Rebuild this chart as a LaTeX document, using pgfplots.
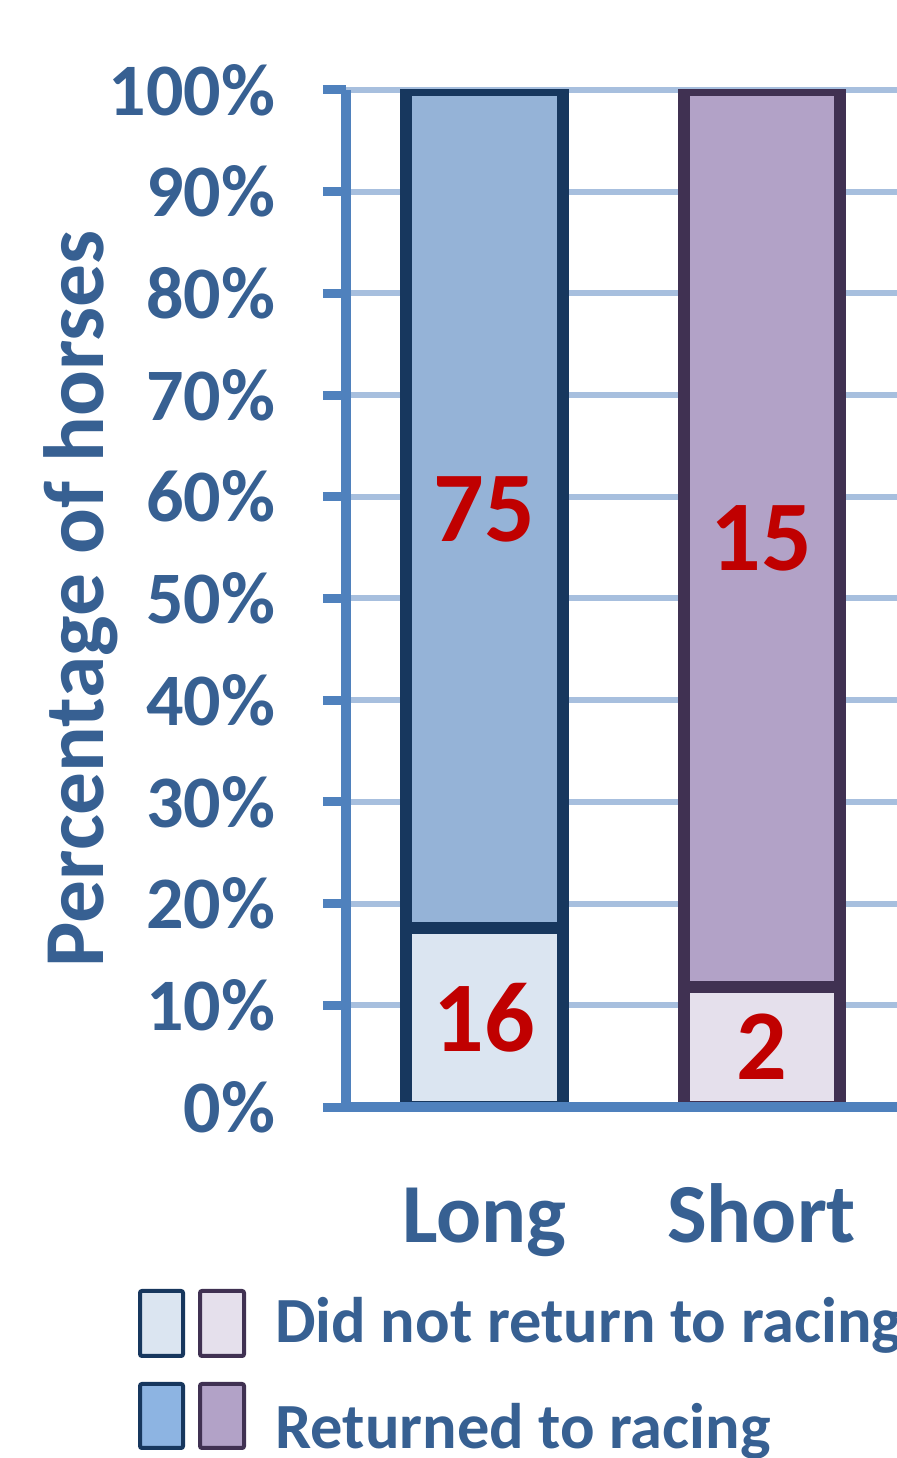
\documentclass[border=0pt]{standalone}
\usepackage{pgfplots}
\pgfplotsset{compat=1.18}
\usepackage{pgfplotstable}
\usepackage{fontspec}
\setmainfont{Carlito}

\definecolor{axisblue}{HTML}{4F81BD}
\definecolor{gridblue}{HTML}{A7BFDE}
\definecolor{textblue}{HTML}{376092}
\definecolor{longedge}{HTML}{17375E}
\definecolor{longlow}{HTML}{DBE5F1}
\definecolor{longhigh}{HTML}{95B3D7}
\definecolor{shortedge}{HTML}{403152}
\definecolor{shortlow}{HTML}{E5E0EC}
\definecolor{shorthigh}{HTML}{B2A2C7}
\definecolor{legendhigh}{HTML}{8DB4E2}
\definecolor{countred}{HTML}{C00000}

% number of horses in each group: did not return / returned to racing
\pgfplotstableread{
x notret ret
0 16  75
1 2   15
}\horses

\pgfplotsset{
  frame/.style={
    at={(173pt,175.5pt)}, anchor=south west,
    scale only axis, width=277pt, height=508.5pt,
    xmin=-0.5, xmax=1.5, ymin=0, ymax=100,
  },
  bars/.style={ybar stacked, bar width=78pt, line width=6pt},
}

\begin{document}
\begin{tikzpicture}
\useasboundingbox (0,0) rectangle (448.5pt,729pt);
\clip (0,0) rectangle (448.5pt,729pt);

% grid, axes, tick labels and the Long bar
\begin{axis}[frame, bars,
  axis lines*=left,
  axis line style={line width=5pt, axisblue},
  ymajorgrids, grid style={line width=3pt, gridblue},
  ytick={0,10,...,100},
  yticklabels={0\%,10\%,20\%,30\%,40\%,50\%,60\%,70\%,80\%,90\%,100\%},
  tick align=outside, major tick length=11.5pt,
  ytick style={line width=4.5pt, axisblue},
  xtick={0,1}, xticklabels={Long,Short}, xtick style={draw=none},
  yticklabel style={font=\fontsize{37}{37}\selectfont\bfseries, text=textblue,
    anchor=east, inner sep=0pt, xshift=-21pt},
  xticklabel style={font=\fontsize{42}{42}\selectfont\bfseries, text=textblue,
    anchor=base, inner sep=0pt, yshift=-56pt},
  ylabel={Percentage of horses},
  ylabel style={at={(axis description cs:-0.437,0.5)}, anchor=base,
    font=\fontsize{42.7}{42.7}\selectfont\bfseries, text=textblue, inner sep=0pt},
]
\addplot[fill=longlow, draw=longedge]
  table[x=x, y expr={100*\thisrow{notret}/(\thisrow{notret}+\thisrow{ret})},
        skip coords between index={1}{2}] \horses;
\addplot[fill=longhigh, draw=longedge]
  table[x=x, y expr={100*\thisrow{ret}/(\thisrow{notret}+\thisrow{ret})},
        skip coords between index={1}{2}] \horses;
\end{axis}

% the Short bar
\begin{axis}[frame, bars, hide axis]
\addplot[fill=shortlow, draw=shortedge]
  table[x=x, y expr={100*\thisrow{notret}/(\thisrow{notret}+\thisrow{ret})},
        skip coords between index={0}{1}] \horses;
\addplot[fill=shorthigh, draw=shortedge]
  table[x=x, y expr={100*\thisrow{ret}/(\thisrow{notret}+\thisrow{ret})},
        skip coords between index={0}{1}] \horses;
\end{axis}

% baseline over the bars, and the counts in the middle of each segment
\begin{axis}[frame,
  axis x line*=bottom, axis y line=none,
  axis line style={line width=5pt, axisblue},
  xtick=\empty, ytick=\empty,
  nodes near coords, point meta=explicit symbolic,
  nodes near coords style={anchor=center, inner sep=0pt,
    font=\fontsize{50}{50}\selectfont\bfseries, text=countred},
]
\addplot[draw=none]
  table[x=x, y expr={50*\thisrow{notret}/(\thisrow{notret}+\thisrow{ret})},
        meta=notret] \horses;
\addplot[draw=none]
  table[x=x, y expr={100*(\thisrow{notret}+0.5*\thisrow{ret})/(\thisrow{notret}+\thisrow{ret})},
        meta=ret] \horses;
\end{axis}

% legend
\begin{scope}[line width=2pt, rounded corners=1pt]
\draw[longedge, fill=longlow]     (70pt,51pt) rectangle (91.5pt,83.5pt);
\draw[shortedge, fill=shortlow]   (100pt,51pt) rectangle (122pt,83.5pt);
\draw[longedge, fill=legendhigh]  (70pt,5pt) rectangle (91.5pt,37pt);
\draw[shortedge, fill=shorthigh]  (100pt,5pt) rectangle (122pt,37pt);
\end{scope}
\begin{scope}[every node/.style={anchor=base west, inner sep=0pt, text=textblue,
    font=\fontsize{32.2}{32.2}\selectfont\bfseries}]
\node at (137.5pt,57.5pt) {Did not return to racing};
\node at (137.5pt,5pt) {Returned to racing};
\end{scope}
\end{tikzpicture}
\end{document}
